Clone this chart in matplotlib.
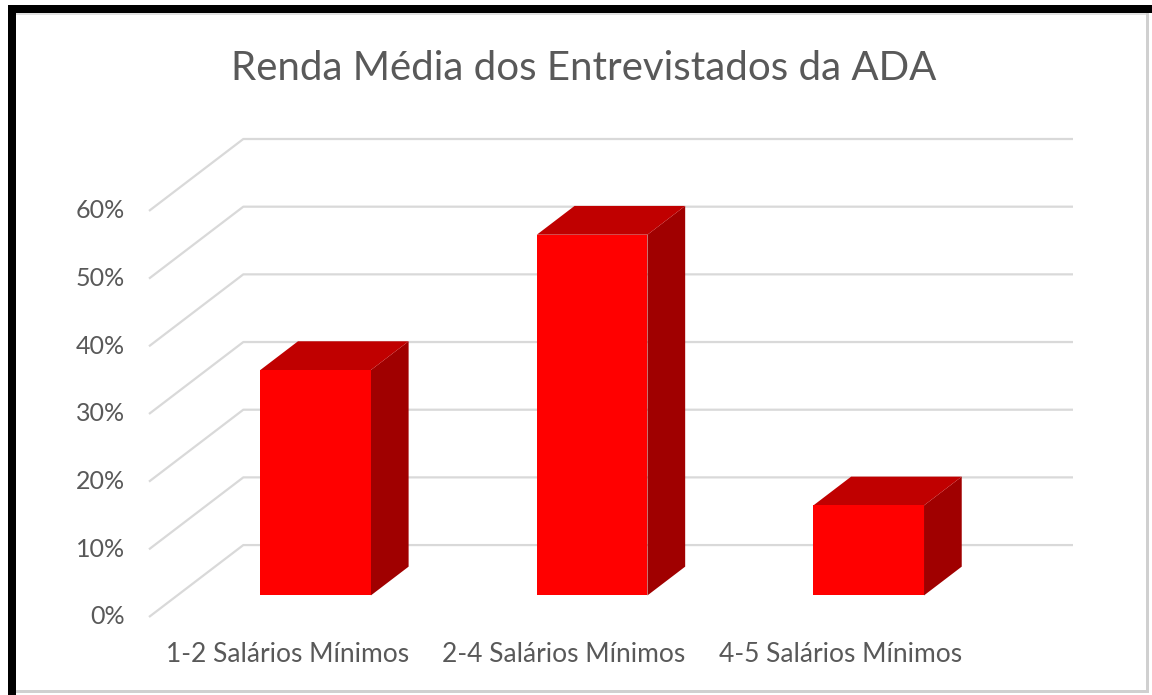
import numpy as np
import matplotlib
matplotlib.use('Agg')
import matplotlib.pyplot as plt
from matplotlib.patches import Rectangle, Polygon

# data
categories = ['1-2 Salários Mínimos', '2-4 Salários Mínimos', '4-5 Salários Mínimos']
values = [33.3, 53.3, 13.3]          # percent
yticks = [0, 10, 20, 30, 40, 50, 60]
title = 'Renda Média dos Entrevistados da ADA'

W, H = 1152, 695
plt.rcParams['font.family'] = ['Lato', 'DejaVu Sans']
txt = '#595959'
grid = '#D9D9D9'

fig = plt.figure(figsize=(W / 100, H / 100), dpi=100)

def px(x0, y0, w, h):
    # rectangle in pixel coords (top-left origin) -> figure fraction
    return (x0 / W, 1 - (y0 + h) / H), w / W, h / H

def frame(x0, y0, w, h, c):
    xy, ww, hh = px(x0, y0, w, h)
    fig.add_artist(Rectangle(xy, ww, hh, transform=fig.transFigure, color=c, lw=0, zorder=-5))

# picture frame
frame(16, 13, 1131, 678, 'white')
frame(8, 5, 1144, 8, 'black')
frame(8, 5, 8, 690, 'black')
frame(1146, 13, 3, 680, '#D0D0D0')
frame(16, 690, 1133, 3, '#D0D0D0')
frame(16, 13, 1130, 2, '#E0E0E0')

# 3D geometry (oblique projection)
ddx, ddy = 0.341, 10.63    # full depth offset in data units
d0, d1 = 0.30, 0.70        # bar depth range
bw = 0.4

x_l, x_r = 149, 1073
y_b, y_t = 617, 139
ax = fig.add_axes([x_l / W, 1 - y_b / H, (x_r - x_l) / W, (y_b - y_t) / H])
ax.set_xlim(0, 3 + ddx)
ax.set_ylim(0, 60 + ddy)
ax.axis('off')

n = len(categories)
for t in yticks:
    ax.plot([0, ddx, n + ddx], [t, t + ddy, t + ddy], color=grid, lw=1.6,
            clip_on=False, solid_capstyle='butt', zorder=1)
    ax.text(-0.087, t, f'{t}%', ha='right', va='center', fontsize=18, color=txt)

for i, v in enumerate(values):
    x0 = i + 0.5 - bw / 2 + d0 * ddx
    y0 = d0 * ddy
    ox, oy = (d1 - d0) * ddx, (d1 - d0) * ddy
    front = Rectangle((x0, y0), bw, v, color='#FF0000', lw=0, zorder=3)
    top = Polygon([(x0, y0 + v), (x0 + bw, y0 + v), (x0 + bw + ox, y0 + v + oy),
                   (x0 + ox, y0 + v + oy)], closed=True, color='#C00000', lw=0, zorder=3)
    side = Polygon([(x0 + bw, y0), (x0 + bw + ox, y0 + oy), (x0 + bw + ox, y0 + v + oy),
                    (x0 + bw, y0 + v)], closed=True, color='#A00000', lw=0, zorder=3)
    for p in (side, top, front):
        p.set_clip_on(False)
        ax.add_patch(p)
    ax.text(i + 0.5, -5.6, categories[i], ha='center', va='center', fontsize=19, color=txt)

fig.text(584 / W, 1 - 68 / H, title, ha='center', va='center', fontsize=29, color=txt)

fig.savefig('out.png', dpi=100)
